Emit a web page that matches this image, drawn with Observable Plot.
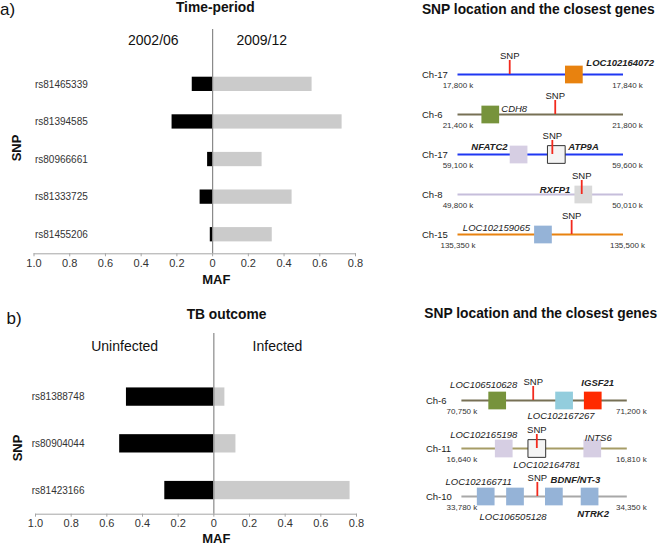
<!DOCTYPE html>
<html>
<head>
<meta charset="utf-8">
<script src="https://cdn.jsdelivr.net/npm/d3@7"></script>
<script src="https://cdn.jsdelivr.net/npm/@observablehq/plot@0.6"></script>
<style>
  html, body { margin: 0; padding: 0; background: #fff; }
  #fig { position: relative; width: 660px; height: 544px; overflow: hidden;
         font-family: "Liberation Sans", Arial, Helvetica, sans-serif; color: #111; }
  #fig svg { position: absolute; overflow: visible; max-width: none; }
  .lab { position: absolute; line-height: 1; white-space: nowrap; }
</style>
</head>
<body>
<div id="fig"></div>
<script>
// ---------------- DATA ----------------
// Panel a: MAF by time period
const snpsA = ["rs81465339", "rs81394585", "rs80966661", "rs81333725", "rs81455206"];
const maf2002 = [0.114, 0.227, 0.028, 0.070, 0.013];
const maf2009 = [0.557, 0.725, 0.277, 0.445, 0.334];

// Panel b: MAF by TB outcome
const snpsB = ["rs81388748", "rs80904044", "rs81423166"];
const mafUninfected = [0.490, 0.528, 0.275];
const mafInfected = [0.062, 0.124, 0.764];

const mafTicks = [-1, -0.8, -0.6, -0.4, -0.2, 0, 0.2, 0.4, 0.6, 0.8];

// Panel a: SNP location tracks (kb)
const chrA = ["Ch-17", "Ch-6", "Ch-17", "Ch-8", "Ch-15"];
const chrStartA = [17800, 21400, 59100, 49800, 135350];
const chrEndA = [17840, 21800, 59600, 50010, 135500];
const snpPosA = [17812.5, 21635, 59385, 49957, 135453];
const genesA = ["LOC102164072", "CDH8", "NFATC2", "ATP9A", "RXFP1", "LOC102159065"];
const geneTrackA = [0, 1, 2, 2, 3, 4];
const genePosA = [17828, 21478, 59283, 59397, 49959, 135427];

// Panel b: SNP location tracks (kb)
const chrB = ["Ch-6", "Ch-11", "Ch-10"];
const chrStartB = [70750, 16640, 33780];
const chrEndB = [71200, 16810, 34350];
const snpPosB = [70944, 16717, 34040];
const genesB = ["LOC106510628", "LOC102167267", "IGSF21", "LOC102165198", "LOC102164781",
                "INTS6", "LOC102166711", "LOC106505128", "BDNF/NT-3", "NTRK2"];
const geneTrackB = [0, 0, 0, 1, 1, 1, 2, 2, 2, 2];
const genePosB = [70846, 71028, 71106, 16683, 16717, 16774, 33862, 33963, 34097, 34220];

// ---------------- STYLES ----------------
const FONT = "'Liberation Sans', Arial, Helvetica, sans-serif";
const trackColorsA = ["#1f37f2", "#777055", "#1f37f2", "#c6bedb", "#e8820f"];
const trackColorsB = ["#777055", "#a69c66", "#a8a8a8"];
const geneStyle = {
  "LOC102164072": {fill: "#e8820f", anchor: "start", dx: 12.5, dy: -11.5, bold: true},
  "CDH8":         {fill: "#77933c", anchor: "start", dx: 11, dy: -6, bold: false},
  "NFATC2":       {fill: "#d6cee3", anchor: "end", dx: -11, dy: -7.5, bold: true},
  "ATP9A":        {fill: "#f4f4f4", stroke: "#333", anchor: "start", dx: 12, dy: -7.5, bold: true},
  "RXFP1":        {fill: "#d9d9d9", anchor: "end", dx: -13, dy: -5, bold: true},
  "LOC102159065": {fill: "#95b3d7", anchor: "end", dx: -13, dy: -7, bold: false},
  "LOC106510628": {fill: "#77933c", anchor: "end", dx: 20, dy: -16, bold: false},
  "LOC102167267": {fill: "#93cddd", anchor: "middle", dx: -3, dy: 15, bold: false},
  "IGSF21":       {fill: "#ff2a00", anchor: "middle", dx: 5, dy: -18, bold: true},
  "LOC102165198": {fill: "#d6cee3", anchor: "middle", dx: -20, dy: -13.5, bold: false},
  "LOC102164781": {fill: "#f4f4f4", stroke: "#333", anchor: "middle", dx: 10, dy: 16.5, bold: false},
  "INTS6":        {fill: "#d6cee3", anchor: "middle", dx: 6, dy: -11, bold: false},
  "LOC102166711": {fill: "#95b3d7", anchor: "middle", dx: -7, dy: -15, bold: false},
  "LOC106505128": {fill: "#95b3d7", anchor: "middle", dx: -2, dy: 20.5, bold: false},
  "BDNF/NT-3":    {fill: "#95b3d7", anchor: "middle", dx: 21.5, dy: -17, bold: true},
  "NTRK2":        {fill: "#95b3d7", anchor: "middle", dx: 3.5, dy: 17.5, bold: true}
};

const fig = document.getElementById("fig");

function label(txt, x, y, o = {}) {
  const d = document.createElement("div");
  d.className = "lab";
  d.textContent = txt;
  d.style.left = x + "px";
  d.style.top = y + "px";
  d.style.fontSize = (o.size || 14) + "px";
  d.style.fontWeight = o.bold ? "bold" : "normal";
  d.style.color = o.color || "#111";
  d.style.transform = `translate(${o.start ? "0" : "-50%"}, -50%)` + (o.rotate ? ` rotate(${o.rotate}deg)` : "");
  fig.appendChild(d);
}

function place(svg, left, top) {
  svg.style.left = left + "px";
  svg.style.top = top + "px";
  fig.appendChild(svg);
}

const tickFmt = d => d === 0 ? "0" : Math.abs(d).toFixed(1);

function barPlot(cfg) {
  const rows = cfg.snps.map((s, i) => ({snp: s, left: cfg.left[i], right: cfg.right[i]}));
  return Plot.plot({
    width: 370, height: cfg.height,
    marginTop: cfg.mt, marginBottom: cfg.mb, marginLeft: cfg.ml, marginRight: cfg.mr,
    style: {fontFamily: FONT, color: "#333", background: "transparent", overflow: "visible"},
    x: {domain: [-1, 0.8]},
    y: {domain: cfg.snps, paddingInner: cfg.pi, paddingOuter: cfg.po, align: cfg.align, round: false},
    marks: [
      Plot.barX(rows, {y: "snp", x1: d => -d.left, x2: d => 0, fill: "#000"}),
      Plot.barX(rows, {y: "snp", x1: d => 0, x2: "right", fill: "#cbcbcb"}),
      Plot.ruleX([0], {stroke: "#8a8a8a", strokeWidth: 1.2}),
      Plot.frame({anchor: "bottom", stroke: "#a5a5a5"}),
      Plot.axisX({ticks: mafTicks, tickFormat: tickFmt, tickSize: 3, tickPadding: 2,
                  fontSize: 11, label: null, stroke: "#a5a5a5", fill: "#333"}),
      Plot.axisY({tickSize: 0, fontSize: 10, dx: cfg.ydx, label: null, fill: "#333"})
    ]
  });
}

function genePlot(cfg) {
  const n = cfg.chr.length;
  const frac = (i, p) => (p - cfg.starts[i]) / (cfg.ends[i] - cfg.starts[i]);
  const T = cfg.chr.map((c, i) => ({i, chr: c, start: cfg.starts[i], end: cfg.ends[i]}));
  const S = cfg.snpPos.map((p, i) => ({i, f: frac(i, p), lab: "SNP"}));
  const G = cfg.genes.map((g, k) => ({name: g, i: cfg.geneTrack[k], f: frac(cfg.geneTrack[k], cfg.genePos[k])}));
  const fmt = d3.format(",");
  const geneLabels = G.map(g => {
    const s = geneStyle[g.name];
    return Plot.text([g], {x: "f", y: "i", text: "name", textAnchor: s.anchor, dx: s.dx, dy: s.dy,
      fontSize: 9.5, fontStyle: "italic", fontWeight: s.bold ? "bold" : "normal", fill: "#222"});
  });
  return Plot.plot({
    width: 260, height: cfg.height,
    marginTop: 0, marginBottom: 0, marginLeft: cfg.ml, marginRight: cfg.mr,
    style: {fontFamily: FONT, color: "#222", background: "transparent", overflow: "visible"},
    x: {domain: [0, 1], axis: null},
    y: {type: "point", domain: d3.range(n), range: cfg.yRange, padding: 0, axis: null},
    color: {type: "identity"},
    marks: [
      Plot.ruleY(T, {y: "i", x1: d => frac(d.i, d.start), x2: d => frac(d.i, d.end),
                     stroke: d => cfg.colors[d.i], strokeWidth: 2}),
      Plot.text(T, {y: "i", frameAnchor: "left", text: "chr", textAnchor: "start", dx: -36,
                    fontSize: 9.5, fill: "#222"}),
      Plot.text(T, {y: "i", x: d => frac(d.i, d.start), text: d => fmt(d.start) + " k",
                    dy: 10.5, fontSize: 8, fill: "#333"}),
      Plot.text(T, {y: "i", x: d => frac(d.i, d.end), text: d => fmt(d.end) + " k",
                    dx: 4, dy: 10.5, fontSize: 8, fill: "#333"}),
      Plot.dot(G, {x: "f", y: "i", symbol: "square", r: 10,
                   fill: d => geneStyle[d.name].fill, stroke: d => geneStyle[d.name].stroke || "none",
                   strokeWidth: 1}),
      Plot.ruleX(S, {x: "f", y1: "i", y2: "i", insetTop: -14, stroke: "#f22a1e", strokeWidth: 1.8}),
      Plot.text(S, {x: "f", y: "i", text: "lab", dy: -19, fontSize: 9.5, fill: "#222"}),
      ...geneLabels
    ]
  });
}

// ---------- Panel a ----------
place(barPlot({snps: snpsA, left: maf2002, right: maf2009, height: 290,
               mt: 29, mb: 36.7, ml: 33.5, mr: 15, pi: 0.62, po: 0.793, align: 0.8, ydx: 62.8}), 0, 0);
place(genePlot({chr: chrA, starts: chrStartA, ends: chrEndA, snpPos: snpPosA, genes: genesA,
                geneTrack: geneTrackA, genePos: genePosA, colors: trackColorsA,
                height: 270, ml: 57.5, mr: 37, yRange: [72.7, 236]}), 400, 0);

// ---------- Panel b ----------
place(barPlot({snps: snpsB, left: mafUninfected, right: mafInfected, height: 254,
               mt: 43, mb: 30.3, ml: 35, mr: 14, pi: 0.608, po: 0.737, align: 0.79, ydx: 58}), 0, 290);
place(genePlot({chr: chrB, starts: chrStartB, ends: chrEndB, snpPos: snpPosB, genes: genesB,
                geneTrack: geneTrackB, genePos: genePosB, colors: trackColorsB,
                height: 254, ml: 61.4, mr: 33.2, yRange: [109.3, 206.7]}), 400, 290);

// ---------- Titles and annotations ----------
label("a)", 0, 8.5, {size: 17, start: true});
label("Time-period", 215.3, 8, {size: 13.8, bold: true});
label("2002/06", 153.3, 39.5, {size: 14});
label("2009/12", 261.7, 39.5, {size: 14});
label("SNP", 15.8, 148, {size: 13, bold: true, rotate: -90});
label("MAF", 216.3, 279.3, {size: 13, bold: true});
label("SNP location and the closest genes", 538.3, 10, {size: 13.8, bold: true});

label("b)", 6.5, 317.5, {size: 17, start: true});
label("TB outcome", 226.5, 315, {size: 13.8, bold: true});
label("Uninfected", 124.7, 345.8, {size: 14});
label("Infected", 277.5, 345.8, {size: 14});
label("SNP", 17, 448, {size: 13, bold: true, rotate: -90});
label("MAF", 216.3, 537.7, {size: 13, bold: true});
label("SNP location and the closest genes", 540.7, 314, {size: 13.8, bold: true});
</script>
</body>
</html>
